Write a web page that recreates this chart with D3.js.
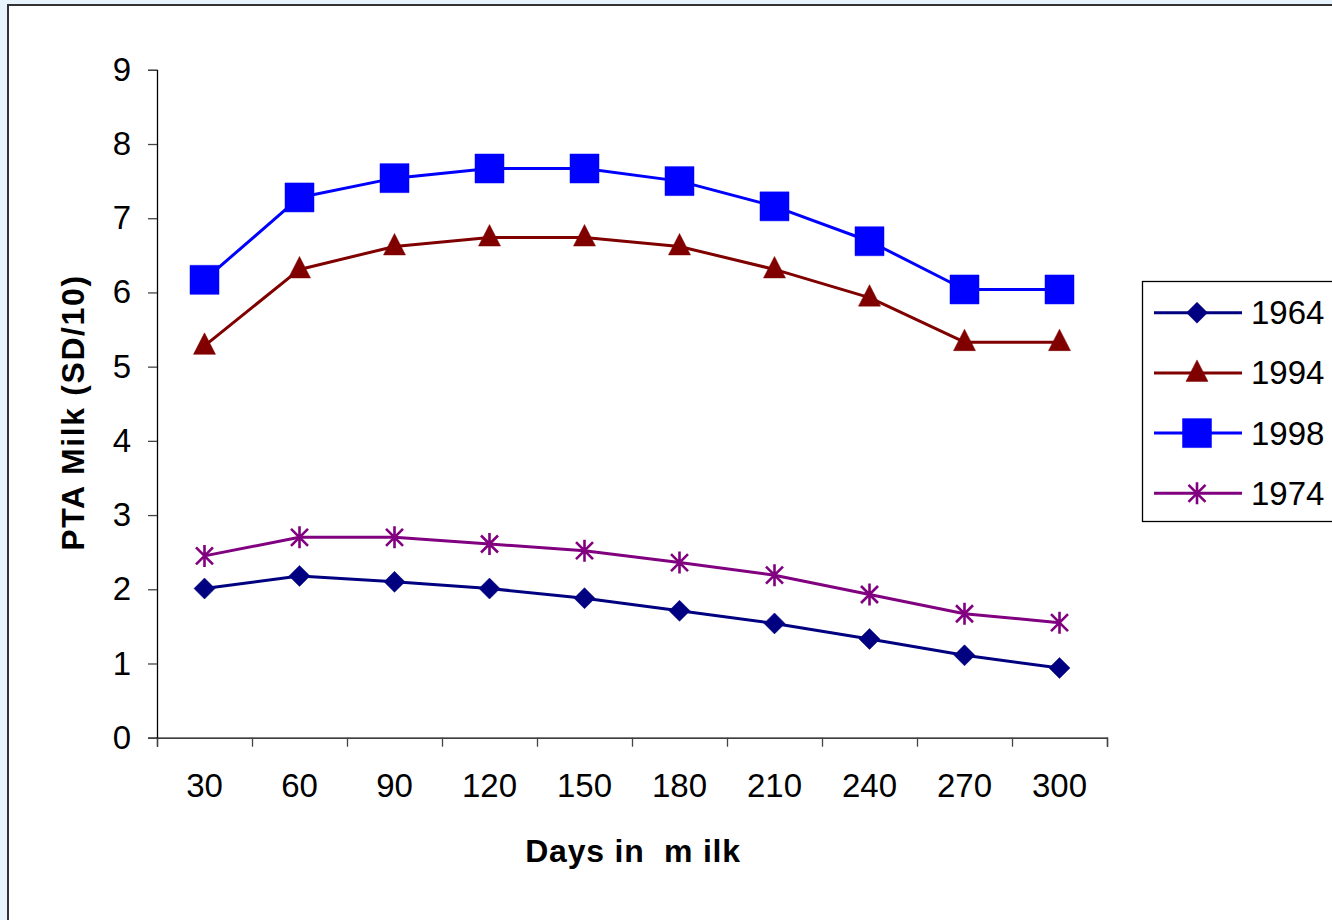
<!DOCTYPE html>
<html>
<head>
<meta charset="utf-8">
<script src="https://cdn.jsdelivr.net/npm/d3@7"></script>
<style>
  html, body { margin: 0; padding: 0; background: #e8f4fd; }
  svg { display: block; }
  text { font-family: "Liberation Sans", Arial, sans-serif; }
</style>
</head>
<body>
<script>
const days = [30, 60, 90, 120, 150, 180, 210, 240, 270, 300];
const yTicks = [0, 1, 2, 3, 4, 5, 6, 7, 8, 9];
const seriesNames = ["1964", "1994", "1998", "1974"];
const values1964 = [2.01, 2.18, 2.10, 2.01, 1.88, 1.71, 1.54, 1.33, 1.11, 0.94];
const values1994 = [5.28, 6.31, 6.62, 6.74, 6.74, 6.62, 6.31, 5.93, 5.33, 5.33];
const values1998 = [6.17, 7.28, 7.54, 7.67, 7.67, 7.50, 7.16, 6.69, 6.04, 6.04];
const values1974 = [2.45, 2.70, 2.70, 2.61, 2.52, 2.36, 2.19, 1.93, 1.67, 1.55];

const series = [
  { name: seriesNames[0], values: values1964, color: "#000080", marker: "diamond" },
  { name: seriesNames[1], values: values1994, color: "#800000", marker: "triangle" },
  { name: seriesNames[2], values: values1998, color: "#0000ff", marker: "square" },
  { name: seriesNames[3], values: values1974, color: "#800080", marker: "star" }
];

const W = 1332, H = 920;
const svg = d3.select("body").append("svg").attr("width", W).attr("height", H);

// chart frame
svg.append("rect").attr("x", 8).attr("y", 5).attr("width", W + 20).attr("height", H + 20)
  .attr("fill", "#ffffff").attr("stroke", "#333333").attr("stroke-width", 2);

const plotLeft = 157, plotRight = 1107, plotTop = 69.8, plotBottom = 737.7;

const xBand = d3.scaleBand().domain(days).range([plotLeft, plotRight]).paddingInner(0).paddingOuter(0);
const xEdge = d3.scaleLinear().domain([0, days.length]).range([plotLeft, plotRight]);
const y = d3.scaleLinear().domain([0, 9]).range([plotBottom, plotTop]);
const cx = d => xBand(d) + xBand.bandwidth() / 2;

// Y axis
const yAxis = svg.append("g").attr("transform", `translate(${plotLeft},0)`)
  .call(d3.axisLeft(y).tickValues(yTicks).tickSize(9).tickPadding(17).tickFormat(d3.format("d")));
yAxis.select(".domain").attr("stroke", "#000").attr("stroke-width", 1.3);
yAxis.selectAll(".tick line").attr("stroke", "#444").attr("stroke-width", 1.3);
yAxis.selectAll(".tick text").attr("font-size", 33).attr("fill", "#000")
  .attr("font-family", "Liberation Sans, Arial, sans-serif");

// X axis: tick marks between categories
const xAxis = svg.append("g").attr("transform", `translate(0,${plotBottom})`)
  .call(d3.axisBottom(xEdge).tickValues(d3.range(days.length + 1)).tickSize(9).tickFormat(""));
xAxis.select(".domain").attr("stroke", "#000").attr("stroke-width", 1.3);
xAxis.selectAll(".tick line").attr("stroke", "#444").attr("stroke-width", 1.3);

// X labels at category centres
const xLab = svg.append("g").attr("transform", `translate(0,${plotBottom})`)
  .call(d3.axisBottom(xBand).tickSize(0).tickPadding(0));
xLab.select(".domain").remove();
xLab.selectAll(".tick text").attr("font-size", 33).attr("fill", "#000")
  .attr("dy", null).attr("y", 59.5)
  .attr("font-family", "Liberation Sans, Arial, sans-serif");

// axis titles
svg.append("text").attr("x", 633).attr("y", 862).attr("text-anchor", "middle")
  .attr("font-size", 32).attr("font-weight", "bold").attr("xml:space", "preserve")
  .attr("letter-spacing", 0.8)
  .style("white-space", "pre")
  .text("Days in  m ilk");

svg.append("text").attr("transform", "translate(84,412.5) rotate(-90)")
  .attr("text-anchor", "middle").attr("font-size", 32).attr("font-weight", "bold")
  .attr("letter-spacing", 1.6)
  .text("PTA Milk (SD/10)");

function markerPath(type) {
  switch (type) {
    case "diamond": return "M0,-10.5L10.5,0L0,10.5L-10.5,0Z";
    case "triangle": return "M0,-13L11,8.5L-11,8.5Z";
    case "square": return "M-14.5,-14.5H14.5V14.5H-14.5Z";
    case "star": return "M0,-11V11M-8.5,-8.5L8.5,8.5M-8.5,8.5L8.5,-8.5";
  }
}
function drawMarker(g, type, color) {
  const p = g.append("path").attr("d", markerPath(type));
  if (type === "star") p.attr("fill", "none").attr("stroke", color).attr("stroke-width", 2.6);
  else p.attr("fill", color).attr("stroke", color).attr("stroke-width", 0.5);
}

const line = d3.line().x(d => cx(d.day)).y(d => y(d.v));

series.forEach(s => {
  const pts = days.map((d, i) => ({ day: d, v: s.values[i] }));
  svg.append("path").datum(pts).attr("d", line)
    .attr("fill", "none").attr("stroke", s.color).attr("stroke-width", 3)
    .attr("stroke-linejoin", "round");
  const g = svg.append("g");
  pts.forEach(p => {
    const mg = g.append("g").attr("transform", `translate(${cx(p.day)},${y(p.v)})`);
    drawMarker(mg, s.marker, s.color);
  });
});

// legend
const lg = svg.append("g");
lg.append("rect").attr("x", 1142.5).attr("y", 281.5).attr("width", 260).attr("height", 240)
  .attr("fill", "#fff").attr("stroke", "#000").attr("stroke-width", 1.3);
series.forEach((s, i) => {
  const ly = 312.7 + i * 60.2;
  lg.append("line").attr("x1", 1154).attr("x2", 1242).attr("y1", ly).attr("y2", ly)
    .attr("stroke", s.color).attr("stroke-width", 3);
  const mg = lg.append("g").attr("transform", `translate(1197,${ly})`);
  drawMarker(mg, s.marker, s.color);
  lg.append("text").attr("x", 1251).attr("y", ly + 11.5).attr("font-size", 33)
    .attr("fill", "#000").text(s.name);
});
</script>
</body>
</html>
